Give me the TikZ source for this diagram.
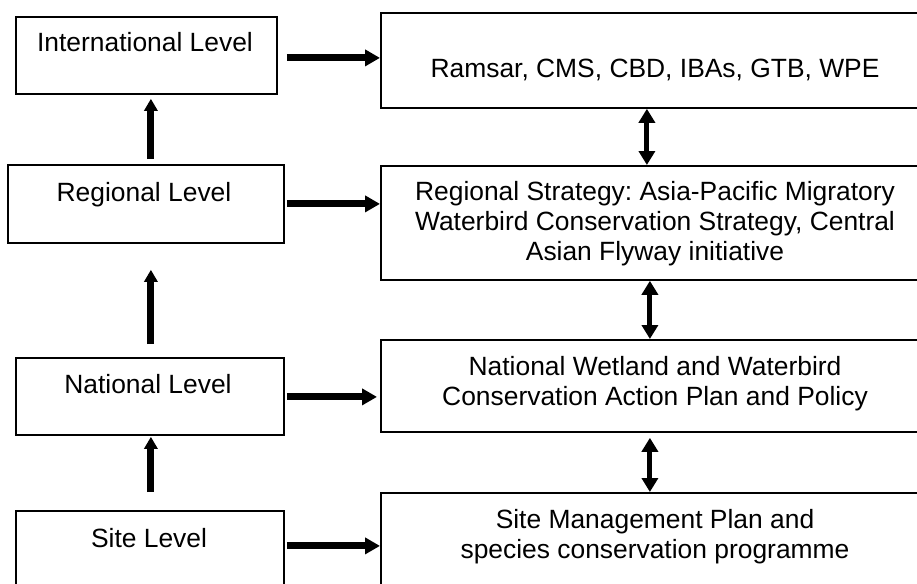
\documentclass[tikz,border=0pt]{standalone}
\usepackage{fontspec}
\setmainfont{Liberation Sans}
\usetikzlibrary{arrows.meta}
\frenchspacing
\begin{document}
\begin{tikzpicture}[x=1pt,y=-1pt,
  boxstyle/.style={draw, line width=1.8pt, rectangle, inner sep=0pt, anchor=north west},
  txt/.style={anchor=base, inner sep=0pt, align=center, font=\fontsize{26.4}{29.7}\selectfont\frenchspacing},
  harrow/.style={line width=7pt, -{Triangle[length=15pt,width=16pt]}},
  varrow/.style={line width=7pt, -{Triangle[length=12pt,width=13pt]}},
  darrow/.style={line width=5pt, {Triangle[length=14pt,width=16pt]}-{Triangle[length=14pt,width=16pt]}}
]
\useasboundingbox (0,0) rectangle (917,583);
\clip (0,0) rectangle (917,583);
\fill[white] (0,0) rectangle (917,583);

% left boxes
\node[boxstyle, minimum width=261pt, minimum height=77pt] (intlbox) at (15,16) {};
\node[boxstyle, minimum width=276pt, minimum height=78pt] (regbox) at (7,164) {};
\node[boxstyle, minimum width=268pt, minimum height=77pt] (natbox) at (15,357) {};
\node[boxstyle, minimum width=268pt, minimum height=100pt] (sitebox) at (15,510) {};

% right boxes
\node[boxstyle, minimum width=560pt, minimum height=95pt] (ramsar) at (380,12) {};
\node[boxstyle, minimum width=560pt, minimum height=114pt] (rstrat) at (380,165) {};
\node[boxstyle, minimum width=560pt, minimum height=92pt] (nplan) at (380,339) {};
\node[boxstyle, minimum width=560pt, minimum height=120pt] (smp) at (380,492) {};

% texts (base anchor = baseline of last line)
\node[txt] (t1) at (145,52) {International Level};
\node[txt] (t2) at (144,201) {Regional Level};
\node[txt] (t3) at (148,393) {National Level};
\node[txt] (t4) at (149,547) {Site Level};
\node[txt] (t5) at (655,78) {Ramsar, CMS, CBD, IBAs, GTB, WPE};
\node[txt] (t6) at (655,260) {Regional Strategy: Asia-Pacific Migratory\\Waterbird Conservation Strategy, Central\\Asian Flyway initiative};
\node[txt] (t7) at (655,405) {National Wetland and Waterbird\\Conservation Action Plan and Policy};
\node[txt] (t8) at (655,558) {Site Management Plan and\\species conservation programme};

% horizontal arrows
\draw[harrow, shorten <=9pt] ([yshift=-2.5pt]intlbox.east) -- ([yshift=-2.5pt]intlbox.east -| ramsar.west);
\draw[harrow, shorten <=2pt] (regbox.east) -- (regbox.east -| rstrat.west);
\draw[harrow, shorten <=2pt, shorten >=3pt] ([yshift=-0.5pt]natbox.east) -- ([yshift=-0.5pt]natbox.east -| nplan.west);
\draw[harrow, shorten <=2pt] ([yshift=15pt]sitebox.east) -- ([yshift=15pt]sitebox.east -| smp.west);

% vertical arrows (left)
\draw[varrow, shorten <=5pt, shorten >=4pt] ([xshift=5pt]regbox.north) -- ([xshift=5pt]regbox.north |- intlbox.south);
\draw[varrow, shorten <=13pt, shorten >=26pt] ([xshift=1pt]natbox.north) -- ([xshift=1pt]natbox.north |- regbox.south);
\draw[varrow, shorten <=18pt, shorten >=1pt] ([xshift=1pt]sitebox.north) -- ([xshift=1pt]sitebox.north |- natbox.south);

% double arrows (right)
\draw[darrow] ([xshift=-14pt]ramsar.south) -- ([xshift=-14pt]ramsar.south |- rstrat.north);
\draw[darrow] ([xshift=-11pt]rstrat.south) -- ([xshift=-11pt]rstrat.south |- nplan.north);
\draw[darrow, shorten <=5pt] ([xshift=-11pt]nplan.south) -- ([xshift=-11pt]nplan.south |- smp.north);
\end{tikzpicture}
\end{document}
